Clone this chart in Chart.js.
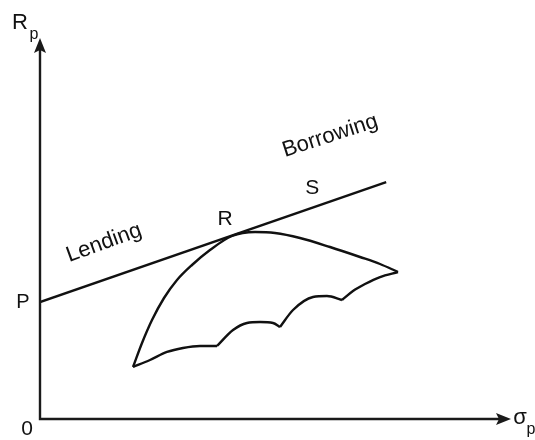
<!DOCTYPE html>
<html>
<head>
<meta charset="utf-8">
<script src="https://cdn.jsdelivr.net/npm/chart.js@4.4.0/dist/chart.umd.min.js"></script>
<style>
html,body{margin:0;padding:0;background:#fff;}
#wrap{width:535px;height:440px;position:relative;}
</style>
</head>
<body>
<div id="wrap"><canvas id="c" width="535" height="440"></canvas></div>
<script>
// Capital market line from P (lending / borrowing)
const lineX = [0, 73.5];
const lineY = [30.7, 62.2];
// Efficient frontier (upper edge of the opportunity set)
const frontierX = [19.75, 21.66, 23.78, 26.33, 29.09, 32.27, 36.09, 40.76, 45.65, 49.89, 55.20, 61.57, 67.94, 72.19, 76.01];
const frontierY = [13.65, 19.95, 25.98, 31.76, 36.48, 40.42, 44.36, 48.03, 49.08, 48.82, 47.51, 45.14, 42.52, 40.68, 38.58];
// Scalloped lower edge, four arcs
const arc1X = [19.75, 23.35, 26.96, 30.36, 33.97, 37.58];
const arc1Y = [13.65, 15.49, 17.59, 18.64, 19.16, 19.16];
const arc2X = [37.58, 40.98, 43.95, 46.71, 49.47, 50.96];
const arc2Y = [19.16, 23.36, 25.20, 25.46, 25.20, 24.15];
const arc3X = [50.96, 53.72, 57.96, 60.93, 64.12];
const arc3Y = [24.15, 28.61, 32.02, 32.28, 31.23];
const arc4X = [64.12, 66.45, 69.00, 72.19, 76.01];
const arc4Y = [31.23, 33.60, 35.43, 37.27, 38.58];

const pts = (xs, ys) => xs.map((x, i) => ({x: x, y: ys[i]}));
const FONT = '"Liberation Sans", Arial, sans-serif';

function ds(xs, ys, smooth) {
  const d = {
    data: pts(xs, ys), showLine: true, borderColor: '#111', borderWidth: 2.4,
    pointRadius: 0, fill: false, tension: 0
  };
  if (smooth) d.cubicInterpolationMode = 'monotone';
  return d;
}

const labelPlugin = {
  id: 'diagramLabels',
  afterDraw(chart) {
    const ctx = chart.ctx, a = chart.chartArea;
    const xs = chart.scales.x, ys = chart.scales.y;
    ctx.save();
    // axes
    ctx.strokeStyle = '#1a1a1a';
    ctx.fillStyle = '#1a1a1a';
    ctx.lineWidth = 2.4;
    ctx.beginPath();
    ctx.moveTo(a.left, a.top + 10);
    ctx.lineTo(a.left, a.bottom);
    ctx.lineTo(a.right - 10, a.bottom);
    ctx.stroke();
    // arrowheads
    ctx.beginPath();
    ctx.moveTo(a.left, a.top);
    ctx.lineTo(a.left - 6, a.top + 15);
    ctx.lineTo(a.left, a.top + 12);
    ctx.lineTo(a.left + 6, a.top + 15);
    ctx.closePath();
    ctx.fill();
    ctx.beginPath();
    ctx.moveTo(a.right, a.bottom);
    ctx.lineTo(a.right - 15, a.bottom - 6);
    ctx.lineTo(a.right - 12, a.bottom);
    ctx.lineTo(a.right - 15, a.bottom + 6);
    ctx.closePath();
    ctx.fill();

    ctx.fillStyle = '#111';
    ctx.textAlign = 'center';
    ctx.textBaseline = 'middle';
    function txt(s, x, y, size, rot) {
      ctx.save();
      ctx.translate(x, y);
      if (rot) ctx.rotate(rot * Math.PI / 180);
      ctx.font = size + 'px ' + FONT;
      ctx.fillText(s, 0, 0);
      ctx.restore();
    }
    // axis labels
    txt('R', a.left - 20, a.top - 15, 22);
    txt('p', a.left - 6, a.top - 3, 16);
    txt('σ', a.right + 9, a.bottom - 1, 22);
    txt('p', a.right + 20, a.bottom + 11, 16);
    txt('0', a.left - 13, a.bottom + 10, 21);
    txt('P', a.left - 17, ys.getPixelForValue(lineY[0]), 20);
    // in-plot labels
    txt('Lending', xs.getPixelForValue(13.6), ys.getPixelForValue(46.2), 22, -20);
    txt('Borrowing', xs.getPixelForValue(61.6), ys.getPixelForValue(74.3), 22, -18);
    txt('R', xs.getPixelForValue(39.3), ys.getPixelForValue(52.5), 21);
    txt('S', xs.getPixelForValue(57.8), ys.getPixelForValue(60.6), 21);
    ctx.restore();
  }
};

new Chart(document.getElementById('c'), {
  type: 'scatter',
  data: {
    datasets: [
      ds(lineX, lineY, false),
      ds(frontierX, frontierY, true),
      ds(arc1X, arc1Y, true),
      ds(arc2X, arc2Y, true),
      ds(arc3X, arc3Y, true),
      ds(arc4X, arc4Y, true)
    ]
  },
  options: {
    responsive: false,
    animation: false,
    devicePixelRatio: 1,
    layout: {padding: {left: 40, right: 24, top: 38, bottom: 21}},
    plugins: {legend: {display: false}, tooltip: {enabled: false}},
    scales: {
      x: {type: 'linear', min: 0, max: 100, display: false},
      y: {type: 'linear', min: 0, max: 100, display: false}
    }
  },
  plugins: [labelPlugin]
});
</script>
</body>
</html>
